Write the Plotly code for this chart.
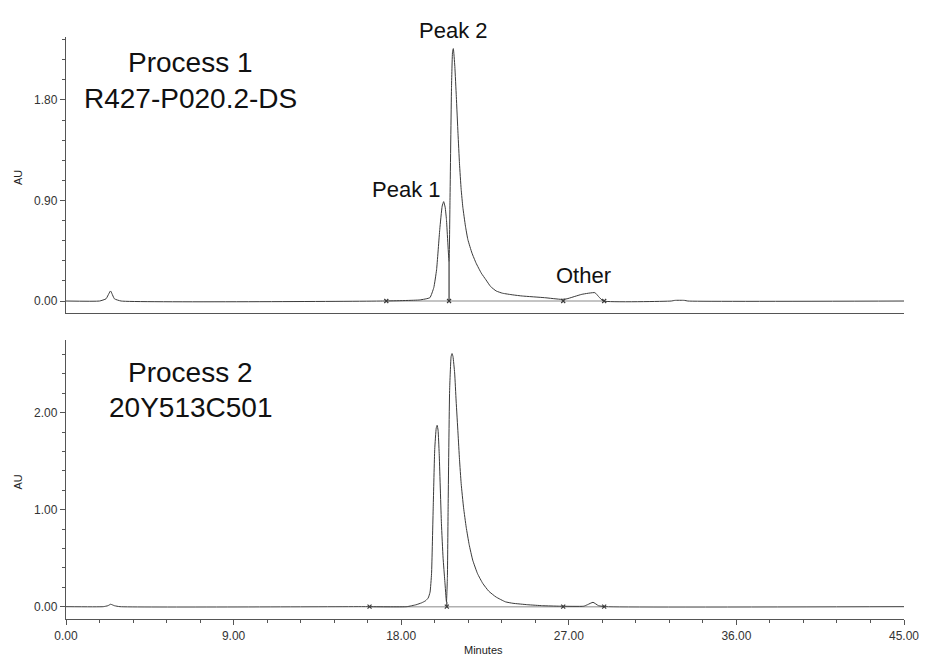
import plotly.graph_objects as go

# ---------------- data ----------------
t1 = [0.0, 1.8, 2.15, 2.39, 2.6, 2.96, 17.0, 19.0, 19.54, 19.75, 19.9, 20.07, 20.2, 20.28,
      20.36, 20.43, 20.57, 20.62, 20.7, 20.76, 20.8, 20.88, 20.96, 21.05, 21.13, 21.22,
      21.31, 21.45, 21.58, 21.8, 22.02, 22.3, 22.55, 22.8, 23.1, 23.44, 24.0, 24.5, 25.7,
      26.6, 26.9, 27.7, 28.4, 28.6, 28.85, 32.5, 32.7, 33.2, 33.4, 45.0]
au1 = [0.0, 0.0, 0.02, 0.09, 0.02, 0.0, 0.0, 0.01, 0.03, 0.12, 0.28, 0.64, 0.85, 0.89,
       0.84, 0.73, 0.35, 0.9, 1.9, 2.24, 2.26, 2.1, 1.83, 1.5, 1.23, 1.0,
       0.84, 0.67, 0.55, 0.43, 0.34, 0.25, 0.19, 0.13, 0.09, 0.07, 0.055, 0.045, 0.03,
       0.015, 0.02, 0.06, 0.075, 0.04, 0.0, 0.0, 0.006, 0.006, 0.0, 0.0]

t2 = [0.0, 2.0, 2.25, 2.4, 2.6, 2.9, 16.0, 18.3, 18.8, 19.1, 19.3, 19.45, 19.55, 19.63,
      19.72, 19.8, 19.88, 19.93, 19.98, 20.04, 20.16, 20.25, 20.34, 20.43, 20.48, 20.52,
      20.6, 20.68, 20.73, 20.78, 20.87, 20.95, 21.05, 21.13, 21.22, 21.35, 21.49, 21.65,
      21.84, 22.1, 22.38, 22.7, 23.09, 23.6, 24.0, 24.8, 25.6, 26.5, 27.8, 28.0, 28.3,
      28.6, 29.0, 45.0]
au2 = [0.0, 0.0, 0.01, 0.025, 0.01, 0.0, 0.0, 0.0, 0.02, 0.04, 0.06, 0.09, 0.15, 0.34,
       1.03, 1.62, 1.84, 1.87, 1.82, 1.58, 0.86, 0.5, 0.27, 0.05, 0.3, 1.03,
       2.23, 2.58, 2.61, 2.58, 2.41, 2.12, 1.79, 1.52, 1.27, 1.02, 0.82, 0.64,
       0.48, 0.34, 0.24, 0.16, 0.10, 0.05, 0.035, 0.02, 0.01, 0.005, 0.005, 0.02, 0.045,
       0.01, 0.0, 0.0]

# integration marks (baseline start/stop, drop lines)
marks1 = [17.2, 20.57, 26.7, 28.9]
marks2 = [16.3, 20.45, 26.7, 28.9]
drop1_t, drop1_au = 20.57, 0.35
drop2_t, drop2_au = 20.45, 0.05

x_ticks = [0, 9, 18, 27, 36, 45]
x_ticklabels = ["0.00", "9.00", "18.00", "27.00", "36.00", "45.00"]
y1_ticks = [0.0, 0.9, 1.8]
y1_ticklabels = ["0.00", "0.90", "1.80"]
y2_ticks = [0.0, 1.0, 2.0]
y2_ticklabels = ["0.00", "1.00", "2.00"]

peak_labels = ["Peak 1", "Other"]
peak_label_t = [18.3, 27.78]
peak_label_au = [1.0, 0.225]

# ---------------- figure ----------------
LINE = "#3a3a3a"
AXC = "#555555"
FONT = "Liberation Sans"

fig = go.Figure()

def add_panel(t, au, marks, dt, dau, xa, ya):
    # integration baseline (light grey)
    fig.add_trace(go.Scatter(x=[marks[0], marks[-1]], y=[0, 0], mode="lines",
                             line=dict(color="#b0b0b0", width=1.5), xaxis=xa, yaxis=ya,
                             hoverinfo="skip"))
    fig.add_trace(go.Scatter(x=t, y=au, mode="lines",
                             line=dict(color=LINE, width=1, shape="spline", smoothing=0.4),
                             xaxis=xa, yaxis=ya))
    fig.add_trace(go.Scatter(x=[dt, dt], y=[0, dau], mode="lines",
                             line=dict(color=LINE, width=1.2), xaxis=xa, yaxis=ya))
    fig.add_trace(go.Scatter(x=marks, y=[0] * len(marks), mode="markers",
                             marker=dict(symbol="x-thin", size=4, color=LINE,
                                         line=dict(width=1.2, color=LINE)),
                             xaxis=xa, yaxis=ya))

add_panel(t1, au1, marks1, drop1_t, drop1_au, "x", "y")
add_panel(t2, au2, marks2, drop2_t, drop2_au, "x2", "y2")

axis_common = dict(showline=True, linecolor=AXC, linewidth=1.3, showgrid=False,
                   zeroline=False, tickfont=dict(family=FONT, size=12, color="#333"),
                   tickcolor=AXC, tickwidth=1)

fig.update_layout(
    width=931, height=657,
    margin=dict(l=66, r=19, t=37, b=38),
    paper_bgcolor="white", plot_bgcolor="white",
    showlegend=False,
    xaxis=dict(**axis_common, domain=[0, 1], range=[0, 45], anchor="y",
               showticklabels=False, ticks=""),
    yaxis=dict(**axis_common, domain=[0.5258, 1], range=[-0.107, 2.364], anchor="x",
               tickmode="array", tickvals=y1_ticks, ticktext=y1_ticklabels,
               ticks="outside", ticklen=5,
               minor=dict(ticks="outside", ticklen=3, tick0=0, dtick=0.18,
                          tickcolor=AXC, tickwidth=1)),
    xaxis2=dict(**axis_common, domain=[0, 1], range=[0, 45], anchor="y2",
                tickmode="array", tickvals=x_ticks, ticktext=x_ticklabels,
                ticks="outside", ticklen=5, ticklabeloverflow="allow",
                minor=dict(ticks="outside", ticklen=3, tick0=0, dtick=1.8,
                           tickcolor=AXC, tickwidth=1)),
    yaxis2=dict(**axis_common, domain=[0, 0.4794], range=[-0.127, 2.75], anchor="x2",
                tickmode="array", tickvals=y2_ticks, ticktext=y2_ticklabels,
                ticks="outside", ticklen=5,
                minor=dict(ticks="outside", ticklen=3, tick0=0, dtick=0.2,
                           tickcolor=AXC, tickwidth=1)),
)

ann = []
# sample titles
ann.append(dict(text="Process 1", x=6.7, y=2.14, xref="x", yref="y"))
ann.append(dict(text="R427-P020.2-DS", x=6.7, y=1.815, xref="x", yref="y"))
ann.append(dict(text="Process 2", x=6.7, y=2.414, xref="x2", yref="y2"))
ann.append(dict(text="20Y513C501", x=6.7, y=2.054, xref="x2", yref="y2"))
for a in ann:
    a.update(showarrow=False, font=dict(family=FONT, size=28, color="#111"),
             xanchor="center", yanchor="middle")
for lab, tx, ty in zip(peak_labels, peak_label_t, peak_label_au):
    ann.append(dict(text=lab, x=tx, y=ty, xref="x", yref="y", showarrow=False,
                    font=dict(family=FONT, size=22, color="#111"),
                    xanchor="center", yanchor="middle"))
# "Peak 2" sits above the top of the axis range -> place it in paper coordinates
ann.append(dict(text="Peak 2", x=20.82, y=1.0115, xref="x", yref="paper", showarrow=False,
                font=dict(family=FONT, size=22, color="#111"),
                xanchor="center", yanchor="middle"))
# axis titles
ann.append(dict(text="AU", x=-0.0567, y=0.7586, xref="paper", yref="paper", textangle=-90,
                showarrow=False, font=dict(family=FONT, size=11, color="#222"),
                xanchor="center", yanchor="middle"))
ann.append(dict(text="AU", x=-0.0567, y=0.2354, xref="paper", yref="paper", textangle=-90,
                showarrow=False, font=dict(family=FONT, size=11, color="#222"),
                xanchor="center", yanchor="middle"))
ann.append(dict(text="Minutes", x=0.4988, y=-0.040, xref="paper", yref="paper",
                showarrow=False, font=dict(family=FONT, size=11, color="#222"),
                xanchor="center", yanchor="top"))
fig.update_layout(annotations=ann)

fig.write_html("out.html")
